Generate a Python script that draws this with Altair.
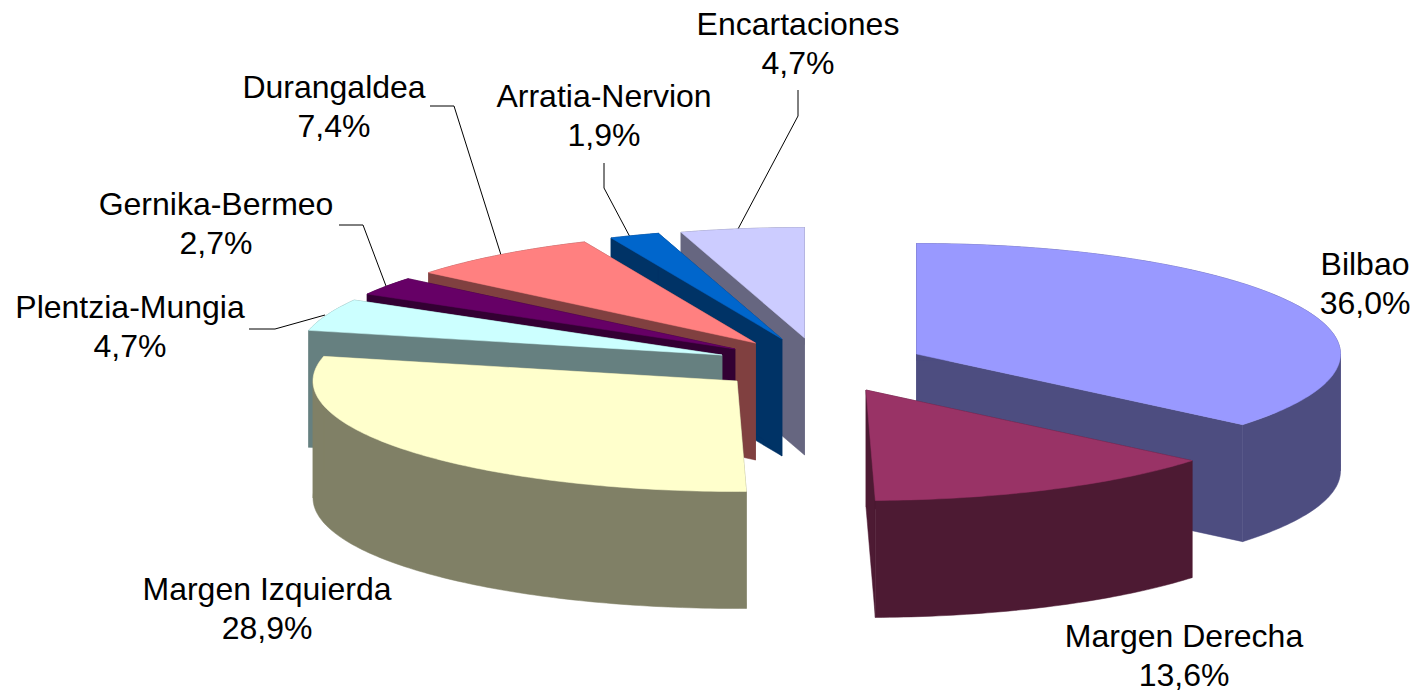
import math
import altair as alt

names = ["Bilbao", "Margen Derecha", "Margen Izquierda", "Plentzia-Mungia",
         "Gernika-Bermeo", "Durangaldea", "Arratia-Nervion", "Encartaciones"]
shares = [36.0, 13.6, 28.9, 4.7, 2.7, 7.4, 1.9, 4.7]
top_colors = ["#9999FF", "#993366", "#FFFFCC", "#CCFFFF", "#660066", "#FF8080", "#0066CC", "#CCCCFF"]
side_colors = ["#4D4D80", "#4D1A33", "#808066", "#668080", "#330033", "#804040", "#003366", "#666680"]

# layout of the exploded tilted pie (page pixels)
apex_x = [916.5, 866, 737, 722, 735, 755.5, 782, 804.5]
apex_y = [354, 390, 381, 355, 349, 343, 339, 338]
RX, RY, DEPTH = 424, 110.5, 117
paint_order = [7, 6, 5, 4, 3, 0, 2, 1]
label_x = [1365, 1184, 267, 130, 216, 334, 604, 798]
label_y = [275, 647, 600, 318, 215, 98, 107, 35]
leaders = {
    7: [(798, 90), (798, 116), (738, 229)],
    6: [(604, 163), (604, 188), (630, 237)],
    5: [(430, 106), (454, 106), (501, 255)],
    4: [(339, 225), (363, 225), (386, 286)],
    3: [(249, 329), (275, 329), (325, 315)],
}
M = 8  # page margin


def pt(ax, ay, t, dz=0):
    return [ax + RX * math.sin(t) - M, ay - RY * math.cos(t) + dz - M]


def arc_points(ax, ay, a0, a1, dz=0):
    steps = max(4, int((a1 - a0) * 60))
    return [pt(ax, ay, a0 + (a1 - a0) * k / steps, dz) for k in range(steps + 1)]


def feature(coords, fill):
    return {"type": "Feature", "properties": {"fill": fill},
            "geometry": {"type": "Polygon", "coordinates": [coords + [coords[0]]]}}


edges = [0.0]
for s in shares:
    edges.append(edges[-1] + s / sum(shares) * 2 * math.pi)

faces = []
for i in paint_order:
    a0, a1 = edges[i], edges[i + 1]
    ax, ay = apex_x[i], apex_y[i]
    c = [ax - M, ay - M]
    c_low = [ax - M, ay - M + DEPTH]
    side = side_colors[i]
    # the outer wall is split where the rim turns back, so each piece is a simple polygon
    cuts = [a0] + [b for b in (math.pi / 2, 3 * math.pi / 2) if a0 < b < a1] + [a1]
    faces.append(feature([c, pt(ax, ay, a0), pt(ax, ay, a0, DEPTH), c_low], side))
    faces.append(feature([c, pt(ax, ay, a1), pt(ax, ay, a1, DEPTH), c_low], side))
    for b0, b1 in zip(cuts, cuts[1:]):
        faces.append(feature(arc_points(ax, ay, b0, b1) + arc_points(ax, ay, b0, b1, DEPTH)[::-1], side))
    faces.append(feature([c] + arc_points(ax, ay, a0, a1), top_colors[i]))

lines = [{"type": "Feature", "properties": {},
          "geometry": {"type": "LineString",
                       "coordinates": [[x - M, y - M] for x, y in p]}}
         for p in leaders.values()]

label_rows = []
for i, n in enumerate(names):
    pct = f"{shares[i]:.1f}%".replace(".", ",")
    label_rows.append({"t": n, "lon": label_x[i] - M, "lat": label_y[i] - M})
    label_rows.append({"t": pct, "lon": label_x[i] - M, "lat": label_y[i] + 39 - M})

proj = dict(type="identity", scale=1, translate=[0, 0])

pie = (
    alt.Chart(alt.Data(values=faces))
    .mark_geoshape(strokeWidth=0.5)
    .encode(fill=alt.Fill("properties.fill:N", scale=None),
            stroke=alt.Stroke("properties.fill:N", scale=None))
    .project(**proj)
)
leader = (
    alt.Chart(alt.Data(values=lines))
    .mark_geoshape(filled=False, stroke="#000000", strokeWidth=1)
    .project(**proj)
)
text = (
    alt.Chart(alt.Data(values=label_rows))
    .mark_text(font="Liberation Sans", fontSize=32, align="center",
               baseline="alphabetic", color="#000000")
    .encode(longitude="lon:Q", latitude="lat:Q", text="t:N")
    .project(**proj)
)

chart = (
    alt.layer(leader, pie, text)
    .properties(width=1402, height=685, padding=0, background="#FFFFFF")
    .configure_view(stroke=None)
)
chart.save("out.html", embed_options={"renderer": "svg", "actions": False})
